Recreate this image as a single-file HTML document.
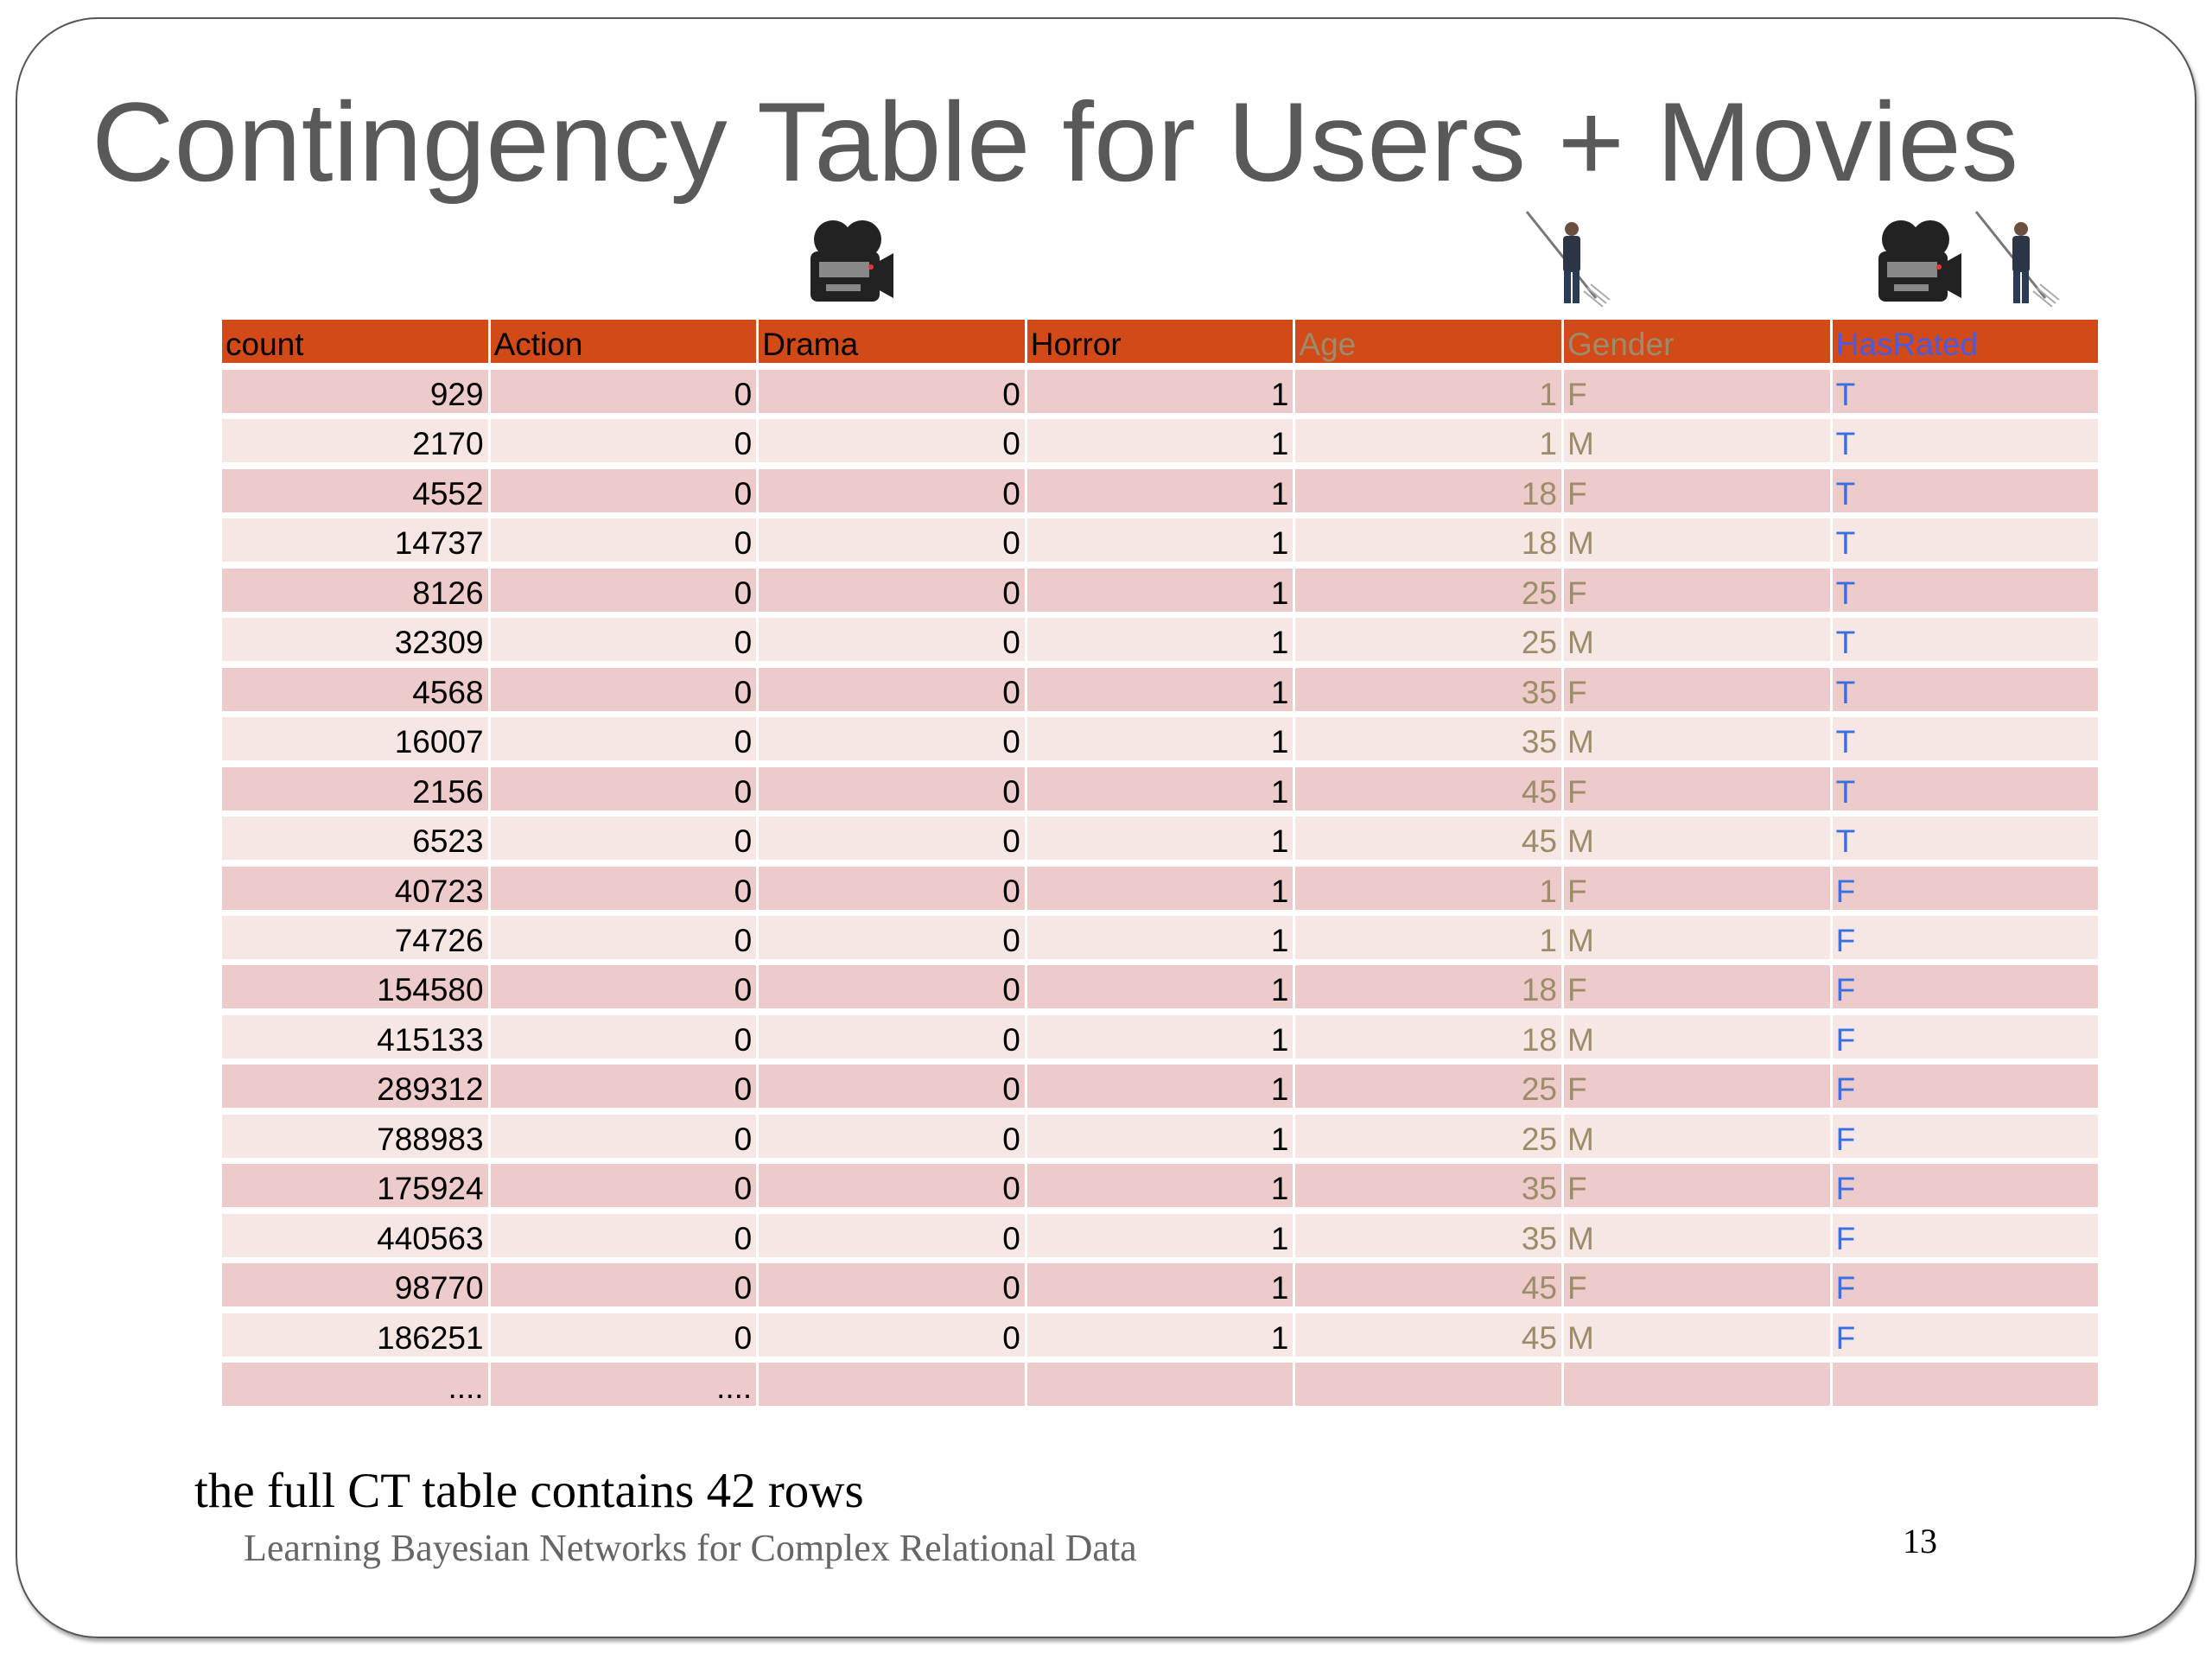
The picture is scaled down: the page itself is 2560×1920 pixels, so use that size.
<!DOCTYPE html>
<html><head><meta charset="utf-8">
<style>
html,body{margin:0;padding:0;background:#fff;}
#page{position:relative;width:2560px;height:1920px;overflow:hidden;background:#fff;font-family:"Liberation Sans",sans-serif;}
#frame{position:absolute;left:18px;top:20px;width:2520px;height:1872px;border:2.5px solid #555;border-radius:95px;box-shadow:2px 4px 4px rgba(0,0,0,0.35);}
.cell{position:absolute;height:50px;line-height:58px;font-size:37px;white-space:nowrap;overflow:hidden;box-sizing:border-box;}
.hdr{background:#D24A17;height:50px;line-height:58px;padding-left:4px;}
</style></head>
<body>
<div id="page">
<div id="frame"></div>
<svg style="position:absolute;left:0;top:0" width="2560" height="400">
<text x="106" y="209" font-family="Liberation Sans, sans-serif" font-size="130" fill="#595959" textLength="2230" lengthAdjust="spacingAndGlyphs">Contingency Table for Users + Movies</text>
<g transform="translate(936,253)">
<circle cx="28" cy="24" r="22" fill="#222"/><circle cx="62" cy="24" r="22" fill="#222"/>
<rect x="2" y="38" width="80" height="58" rx="8" fill="#222"/><rect x="12" y="50" width="58" height="18" fill="#888"/><rect x="20" y="76" width="40" height="8" fill="#888"/>
<polygon points="80,50 98,40 98,92 80,82" fill="#222"/><circle cx="72" cy="56" r="3" fill="#e33"/></g>
<g transform="translate(2172,253)">
<circle cx="28" cy="24" r="22" fill="#222"/><circle cx="62" cy="24" r="22" fill="#222"/>
<rect x="2" y="38" width="80" height="58" rx="8" fill="#222"/><rect x="12" y="50" width="58" height="18" fill="#888"/><rect x="20" y="76" width="40" height="8" fill="#888"/>
<polygon points="80,50 98,40 98,92 80,82" fill="#222"/><circle cx="72" cy="56" r="3" fill="#e33"/></g>
<g transform="translate(1767,245)">
<line x1="0" y1="0" x2="80" y2="100" stroke="#777" stroke-width="3"/>
<circle cx="52" cy="20" r="8" fill="#6b5040"/><rect x="42" y="28" width="20" height="42" rx="4" fill="#2b3545"/>
<rect x="43" y="68" width="8" height="38" fill="#2b3a55"/><rect x="53" y="68" width="8" height="38" fill="#2b3a55"/>
<path d="M70 88 l22 18 M74 84 l22 18 M66 92 l22 18" stroke="#aaa" stroke-width="2"/></g>
<g transform="translate(2287,245)">
<line x1="0" y1="0" x2="80" y2="100" stroke="#777" stroke-width="3"/>
<circle cx="52" cy="20" r="8" fill="#6b5040"/><rect x="42" y="28" width="20" height="42" rx="4" fill="#2b3545"/>
<rect x="43" y="68" width="8" height="38" fill="#2b3a55"/><rect x="53" y="68" width="8" height="38" fill="#2b3a55"/>
<path d="M70 88 l22 18 M74 84 l22 18 M66 92 l22 18" stroke="#aaa" stroke-width="2"/></g>
</svg>
<div id="table"></div>
<div style="position:absolute;left:225px;top:1693px;font-family:'Liberation Serif',serif;font-size:57px;color:#000;">the full CT table contains 42 rows</div>
<div style="position:absolute;left:282px;top:1766px;font-family:'Liberation Serif',serif;font-size:44px;color:#666;">Learning Bayesian Networks for Complex Relational Data</div>
<div style="position:absolute;left:2202px;top:1760px;font-family:'Liberation Serif',serif;font-size:40px;color:#000;">13</div>
</div>
<script>
const headers=["count","Action","Drama","Horror","Age","Gender","HasRated"];
const counts=["929","2170","4552","14737","8126","32309","4568","16007","2156","6523","40723","74726","154580","415133","289312","788983","175924","440563","98770","186251"];
const ages=[1,1,18,18,25,25,35,35,45,45,1,1,18,18,25,25,35,35,45,45];
const genders=["F","M","F","M","F","M","F","M","F","M","F","M","F","M","F","M","F","M","F","M"];
const rated=["T","T","T","T","T","T","T","T","T","T","F","F","F","F","F","F","F","F","F","F"];
const tbl=document.getElementById('table');
const L=257,CW=310.6,TOP=428,PITCH=57.45;
const hdrColors=["#000","#000","#000","#000","#9c8c6a","#9c8c6a","#4a5be0"];
function mk(x,y,w,cls,txt,bg,color,align,name){
  const d=document.createElement('div');
  d.className=cls;
  d.style.left=x+'px';d.style.top=y+'px';d.style.width=w+'px';
  if(bg)d.style.background=bg;
  d.style.color=color;d.style.textAlign=align;
  if(align==='right')d.style.paddingRight='5px';else d.style.paddingLeft='4px';
  d.textContent=txt;
  
  
  tbl.appendChild(d);
}
headers.forEach((h,c)=>{
  mk(L+c*CW,370,CW-3,'cell hdr',h,null,hdrColors[c],'left','header-'+h.toLowerCase());
});
const nrows=counts.length+1;
for(let r=0;r<nrows;r++){
  const y=TOP+r*PITCH;
  const bg=(r%2===0)?'#eccbca':'#f6e7e5';
  const last=r===counts.length;
  const vals=last?["....","....","","","","",""]:[counts[r],"0","0","1",String(ages[r]),genders[r],rated[r]];
  const cols=["#000","#000","#000","#000","#9c8c6a","#9c8c6a","#3a6fe0"];
  const al=["right","right","right","right","right","left","left"];
  for(let c=0;c<7;c++){
    mk(L+c*CW,y,CW-3,'cell',vals[c],bg,cols[c],al[c],'cell-r'+(r+1)+'-'+headers[c].toLowerCase());
  }
}
</script>
</body></html>
